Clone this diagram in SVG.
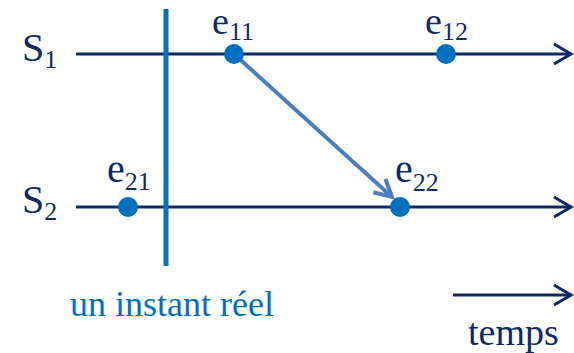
<svg xmlns="http://www.w3.org/2000/svg" width="574" height="353" viewBox="0 0 574 353">
<style>
text{font-family:"Liberation Serif","Times New Roman",serif}
.lbl{fill:#0D2A66}
.axis{stroke:#0D2A66;stroke-width:3;fill:none}
.dot{fill:#0070C0}
</style>
<defs>
<marker id="ah" markerUnits="userSpaceOnUse" markerWidth="40" markerHeight="40" viewBox="-20 -20 40 40" refX="0" refY="0" orient="auto" overflow="visible">
<path d="M-17,-10 L0,0 L-17,10" fill="none" stroke="#0D2A66" stroke-width="3"/>
</marker>
<marker id="ah2" markerUnits="userSpaceOnUse" markerWidth="40" markerHeight="40" viewBox="-20 -20 40 40" refX="0" refY="0" orient="auto" overflow="visible">
<path d="M-17,-9 L0,0 L-17,9" fill="none" stroke="#4A7EBB" stroke-width="4"/>
</marker>
</defs>
<rect width="574" height="353" fill="#fff"/>
<g id="connectors">
<line class="axis" x1="76" y1="54" x2="571" y2="54" marker-end="url(#ah)"/>
<line class="axis" x1="76" y1="207" x2="571" y2="207" marker-end="url(#ah)"/>
<line class="axis" x1="453" y1="295" x2="571" y2="295" marker-end="url(#ah)"/>
<line x1="166" y1="9" x2="166" y2="266" stroke="#0070C0" stroke-width="5"/>
<line x1="234" y1="54" x2="392" y2="197" stroke="#4A7EBB" stroke-width="4" marker-end="url(#ah2)"/>
</g>
<g id="S1"><text class="lbl" x="22" y="61" font-size="40">S<tspan font-size="26" dy="7">1</tspan></text></g>
<g id="S2"><text class="lbl" x="22" y="213" font-size="40">S<tspan font-size="26" dy="7">2</tspan></text></g>
<g id="e11"><circle class="dot" cx="234" cy="54" r="10"/><text class="lbl" x="212" y="34" font-size="38">e<tspan font-size="26" dy="6">11</tspan></text></g>
<g id="e12"><circle class="dot" cx="446" cy="54" r="10"/><text class="lbl" x="425" y="34" font-size="38">e<tspan font-size="26" dy="6">12</tspan></text></g>
<g id="e21"><circle class="dot" cx="128" cy="207" r="10"/><text class="lbl" x="107" y="182" font-size="40">e<tspan font-size="26" dy="8">21</tspan></text></g>
<g id="e22"><circle class="dot" cx="400" cy="207" r="10"/><text class="lbl" x="395" y="182" font-size="40">e<tspan font-size="26" dy="9">22</tspan></text></g>
<g id="instant"><text x="70" y="316" font-size="36" fill="#0070C0">un instant réel</text></g>
<g id="temps"><text class="lbl" x="468" y="345" font-size="38">temps</text></g>
</svg>
